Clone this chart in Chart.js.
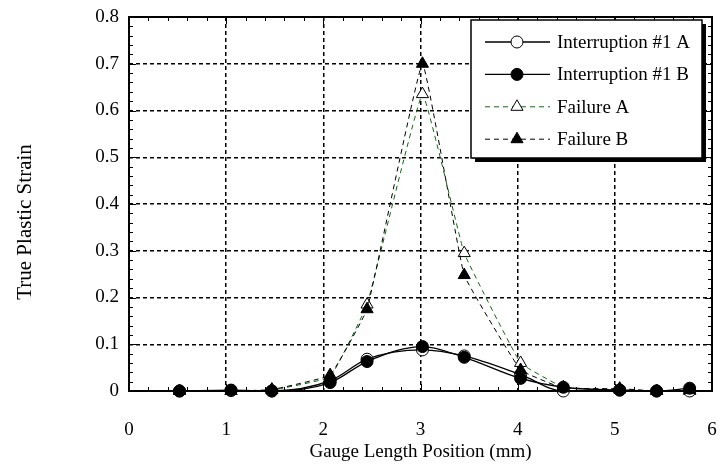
<!DOCTYPE html>
<html lang="en">
  <head>
    <meta charset="UTF-8" />
    <title>True plastic strain along the gauge length</title>
    <style>
      * {
        margin: 0;
        padding: 0;
        box-sizing: border-box;
      }
      body {
        background: #fff;
      }
    </style>
  </head>
  <body>
    <canvas id="myChart" width="728" height="469"></canvas>

    <script src="https://cdn.jsdelivr.net/npm/chart.js"></script>

    <script>
      // gauge length positions (mm)
      const positions = [0.52, 1.05, 1.47, 2.07, 2.45, 3.02, 3.45, 4.03, 4.47, 5.05, 5.43, 5.77];

      const interruptionA = [0, 0.001, 0, 0.022, 0.068, 0.088, 0.075, 0.035, 0, 0.002, 0, 0];
      const interruptionB = [0, 0.002, 0, 0.018, 0.063, 0.095, 0.072, 0.027, 0.008, 0.002, 0, 0.006];
      const failureA = [0, 0, 0.002, 0.03, 0.185, 0.635, 0.295, 0.06, 0.008, 0.003, 0, 0];
      const failureB = [0, 0, 0.003, 0.034, 0.175, 0.7, 0.248, 0.045, 0.006, 0.005, 0, 0.002];

      const xTicks = [0, 1, 2, 3, 4, 5, 6];
      const yTicks = [0, 0.1, 0.2, 0.3, 0.4, 0.5, 0.6, 0.7, 0.8];

      const serif = '"Liberation Serif", "Times New Roman", serif';
      const toPoints = (vals) => vals.map((v, i) => ({ x: positions[i], y: v }));

      const data = {
        datasets: [
          {
            label: "Interruption #1 A",
            data: toPoints(interruptionA),
            order: 2,
            borderColor: "#000",
            borderWidth: 1.3,
            cubicInterpolationMode: "monotone",
            pointStyle: "circle",
            pointRadius: 6,
            pointBackgroundColor: "#fff",
            pointBorderColor: "#000",
            pointBorderWidth: 1,
            clip: false,
          },
          {
            label: "Interruption #1 B",
            data: toPoints(interruptionB),
            order: 0,
            borderColor: "#000",
            borderWidth: 1.3,
            cubicInterpolationMode: "monotone",
            pointStyle: "circle",
            pointRadius: 6,
            pointBackgroundColor: "#000",
            pointBorderColor: "#000",
            pointBorderWidth: 1,
            clip: false,
          },
          {
            label: "Failure A",
            data: toPoints(failureA),
            order: 3,
            borderColor: "#0b6b0b",
            borderWidth: 1,
            borderDash: [5, 4],
            tension: 0.08,
            pointStyle: "triangle",
            pointRadius: 7,
            pointBackgroundColor: "#fff",
            pointBorderColor: "#000",
            pointBorderWidth: 1,
            clip: false,
          },
          {
            label: "Failure B",
            data: toPoints(failureB),
            order: 1,
            borderColor: "#000",
            borderWidth: 1,
            borderDash: [5, 4],
            tension: 0.08,
            pointStyle: "triangle",
            pointRadius: 7,
            pointBackgroundColor: "#000",
            pointBorderColor: "#000",
            pointBorderWidth: 1,
            clip: false,
          },
        ],
      };

      // frame around the plot with inward minor ticks
      const frameTicks = {
        id: "frameTicks",
        afterDatasetsDraw(chart) {
          const {
            ctx,
            chartArea: { top, bottom, left, right },
            scales: { x, y },
          } = chart;
          ctx.save();
          ctx.strokeStyle = "#000";
          ctx.lineWidth = 1;
          for (let i = 0; i <= 40; i++) {
            const py = Math.round(y.getPixelForValue(i * 0.02)) + 0.5;
            const len = i % 5 === 0 ? 7 : 4;
            ctx.beginPath();
            ctx.moveTo(left, py);
            ctx.lineTo(left + len, py);
            ctx.moveTo(right, py);
            ctx.lineTo(right - len, py);
            ctx.stroke();
          }
          for (let i = 0; i <= 30; i++) {
            const px = Math.round(x.getPixelForValue(i * 0.2)) + 0.5;
            const len = i % 5 === 0 ? 7 : 4;
            ctx.beginPath();
            ctx.moveTo(px, bottom);
            ctx.lineTo(px, bottom - len);
            ctx.moveTo(px, top);
            ctx.lineTo(px, top + len);
            ctx.stroke();
          }
          ctx.lineWidth = 2;
          ctx.strokeRect(left, top, right - left, bottom - top);

          // y axis title, sits a little below the plot centre in the original
          ctx.save();
          ctx.translate(25, 222);
          ctx.rotate(-Math.PI / 2);
          ctx.fillStyle = "#000";
          ctx.font = "21px " + serif;
          ctx.textAlign = "center";
          ctx.textBaseline = "middle";
          ctx.fillText("True Plastic Strain", 0, 0);
          ctx.restore();
          ctx.restore();
        },
      };

      // boxed legend with drop shadow, inside the plot
      const boxLegend = {
        id: "boxLegend",
        afterDraw(chart) {
          const { ctx } = chart;
          const bx = 471, by = 20, bw = 231, bh = 138;
          ctx.save();
          ctx.fillStyle = "#000";
          ctx.fillRect(bx + 4, by + 4, bw, bh);
          ctx.fillStyle = "#fff";
          ctx.fillRect(bx, by, bw, bh);
          ctx.strokeStyle = "#000";
          ctx.lineWidth = 1.5;
          ctx.strokeRect(bx, by, bw, bh);

          chart.data.datasets.forEach((ds, i) => {
            const ry = by + 22 + i * 32.4;
            ctx.strokeStyle = ds.borderColor;
            ctx.lineWidth = ds.borderWidth;
            ctx.setLineDash(ds.borderDash || []);
            ctx.beginPath();
            ctx.moveTo(485, ry);
            ctx.lineTo(550, ry);
            ctx.stroke();
            ctx.setLineDash([]);

            ctx.fillStyle = ds.pointBackgroundColor;
            ctx.strokeStyle = ds.pointBorderColor;
            ctx.lineWidth = ds.pointBorderWidth;
            ctx.beginPath();
            if (ds.pointStyle === "circle") {
              ctx.arc(517, ry, ds.pointRadius, 0, Math.PI * 2);
            } else {
              const r = ds.pointRadius;
              ctx.moveTo(517, ry - r);
              ctx.lineTo(517 + r * 0.866, ry + r * 0.5);
              ctx.lineTo(517 - r * 0.866, ry + r * 0.5);
              ctx.closePath();
            }
            ctx.fill();
            ctx.stroke();

            ctx.fillStyle = "#000";
            ctx.font = "19px " + serif;
            ctx.textAlign = "left";
            ctx.textBaseline = "middle";
            ctx.fillText(ds.label, 557, ry + 1);
          });
          ctx.restore();
        },
      };

      const font = { family: serif, size: 19 };

      const config = {
        type: "line",
        data: data,
        options: {
          responsive: false,
          animation: false,
          layout: { padding: { top: 17, right: 16, left: 0, bottom: 0 } },
          plugins: {
            legend: { display: false },
            tooltip: { enabled: false },
          },
          scales: {
            x: {
              type: "linear",
              min: 0,
              max: 6,
              afterBuildTicks: (scale) => {
                scale.ticks = xTicks.map((v) => ({ value: v }));
              },
              ticks: { color: "#000", font, padding: 28, maxRotation: 0 },
              grid: { color: "#000", lineWidth: 1.5, drawTicks: false },
              border: { display: false, dash: [4, 3] },
              title: {
                display: true,
                text: "Gauge Length Position (mm)",
                color: "#000",
                font,
                padding: { top: 0, bottom: 6 },
              },
              afterFit: (scale) => {
                scale.height = 78;
                scale.paddingLeft = 0;
                scale.paddingRight = 0;
              },
            },
            y: {
              type: "linear",
              min: 0,
              max: 0.8,
              afterBuildTicks: (scale) => {
                scale.ticks = yTicks.map((v) => ({ value: v }));
              },
              ticks: {
                color: "#000",
                font,
                padding: 10,
                callback: (v) => String(Math.round(v * 10) / 10),
              },
              grid: { color: "#000", lineWidth: 1.5, drawTicks: false },
              border: { display: false, dash: [4, 3] },
              afterFit: (scale) => {
                scale.width = 129;
                scale.paddingTop = 0;
                scale.paddingBottom = 0;
              },
            },
          },
        },
        plugins: [frameTicks, boxLegend],
      };

      const myChart = new Chart(document.getElementById("myChart"), config);
    </script>
  </body>
</html>
